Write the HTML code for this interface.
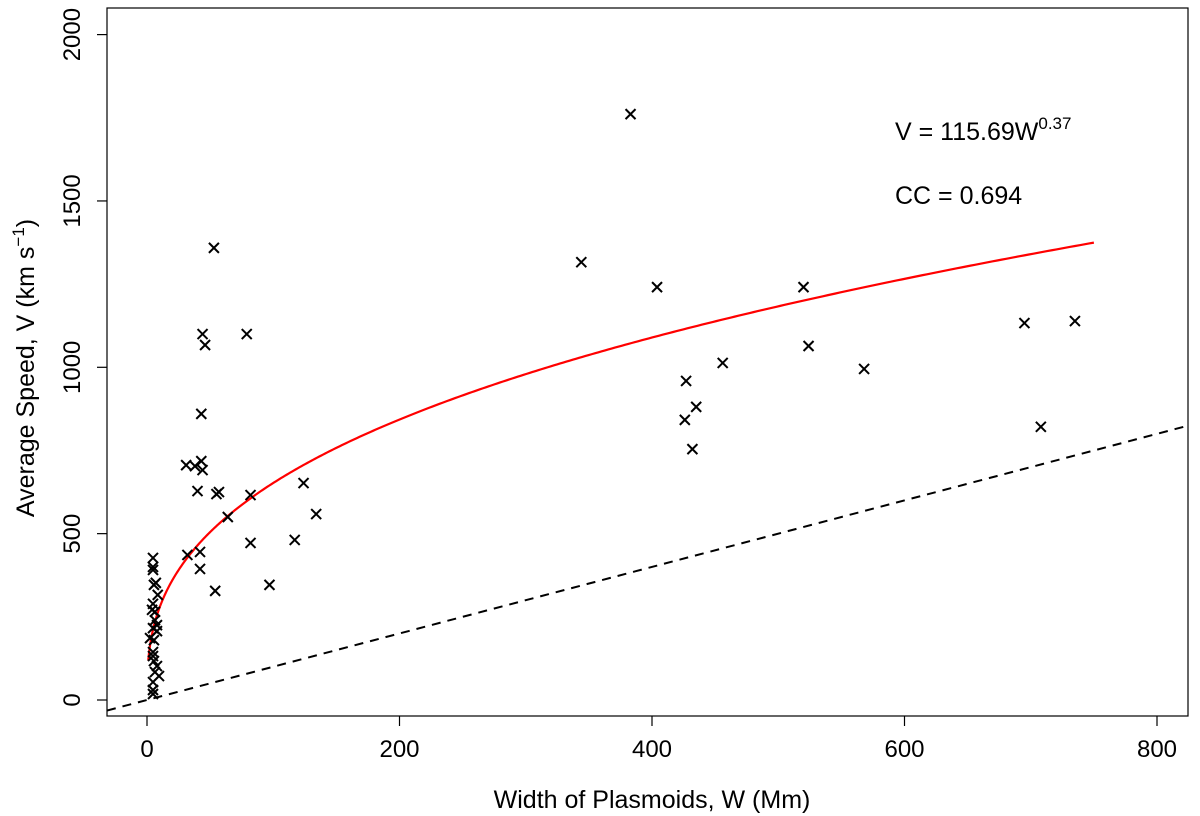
<!DOCTYPE html>
<html><head><meta charset="utf-8"><style>
html,body{margin:0;padding:0;background:#fff;}
svg{display:block;font-family:"Liberation Sans",Arial,sans-serif;}
</style></head><body>
<svg id="chart" width="1200" height="816" viewBox="0 0 1200 816">
<rect x="107" y="8" width="1081" height="708" fill="none" stroke="#000" stroke-width="1.2"/>
<g id="axes"></g>
<g id="lines"></g>
<g id="points"></g>
<text x="895" y="140" font-size="25">V = 115.69W<tspan dy="-11" font-size="17">0.37</tspan></text>
<text x="895" y="204" font-size="25">CC = 0.694</text>
<text x="652" y="808" font-size="25" text-anchor="middle">Width of Plasmoids, W (Mm)</text>
<text transform="translate(34,368) rotate(-90)" font-size="25" text-anchor="middle">Average Speed, V (km s<tspan dy="-10" font-size="17">−1</tspan><tspan dy="10">)</tspan></text>
</svg>
<script>
const xTicks=[0,200,400,600,800];
const yTicks=[0,500,1000,1500,2000];
const widths=[4.75,4.75,4.75,5.5,7,8.5,4.75,6.3,4,6.3,7.9,4.75,7.9,5.5,2.4,4.75,4.75,5.5,7.9,6.3,9.5,4.75,4.75,4.75,
53,44,46,79,43,31,38,43,44,40,57,55,82,124,64,134,32,42,42,82,117,54,97,
383,344,404,520,427,426,435,432,456,524,568,695,735,708];
const speeds=[427,400,391,346,352,316,289,265,271,240,225,216,207,180,186,144,132,117,102,84,72,54,30,18,
1359,1100,1067,1100,860,706,703,718,691,628,625,619,616,652,550,559,436,445,394,472,481,328,346,
1761,1316,1241,1241,959,842,881,754,1013,1064,995,1133,1139,821];
const fitA=118.7, fitB=0.37;
const NS='http://www.w3.org/2000/svg';
const sx=v=>147+v*1.2625, sy=v=>700-v*0.3327;
function mk(t,a,p){const e=document.createElementNS(NS,t);for(const k in a)e.setAttribute(k,a[k]);p.appendChild(e);return e;}
const axes=document.getElementById('axes');
xTicks.forEach(t=>{
 const l=mk('line',{x1:sx(t),x2:sx(t),y1:716,y2:726,stroke:'#000','stroke-width':1.2},axes);
 
 
 const tx=mk('text',{x:sx(t),y:757,'font-size':24,'text-anchor':'middle'},axes);tx.textContent=t;
 
 
});
yTicks.forEach(t=>{
 const l=mk('line',{x1:97,x2:107,y1:sy(t),y2:sy(t),stroke:'#000','stroke-width':1.2},axes);
 
 
 const tx=mk('text',{transform:`translate(80,${sy(t)}) rotate(-90)`,'font-size':24,'text-anchor':'middle'},axes);tx.textContent=t;
 
 
});
const lines=document.getElementById('lines');
const w0=(107-147)/1.2625, w1=(1188-147)/1.2625;
const dl=mk('line',{x1:sx(w0),y1:sy(w0),x2:sx(w1),y2:sy(w1),stroke:'#000','stroke-width':2,'stroke-dasharray':'9,7'},lines);


let d='';
for(let i=0;i<=400;i++){const w=1+749*Math.pow(i/400,2);d+=(i?'L':'M')+sx(w).toFixed(2)+','+sy(fitA*Math.pow(w,fitB)).toFixed(2);}
const fp=mk('path',{d:d,fill:'none',stroke:'#f00','stroke-width':2.2},lines);


const pts=document.getElementById('points');
widths.forEach((w,i)=>{
 const x=sx(w),y=sy(speeds[i]),s=5;
 const p=mk('path',{d:`M${x-s},${y-s}L${x+s},${y+s}M${x-s},${y+s}L${x+s},${y-s}`,stroke:'#000','stroke-width':2,fill:'none'},pts);
 
 
});
</script>
</body></html>
